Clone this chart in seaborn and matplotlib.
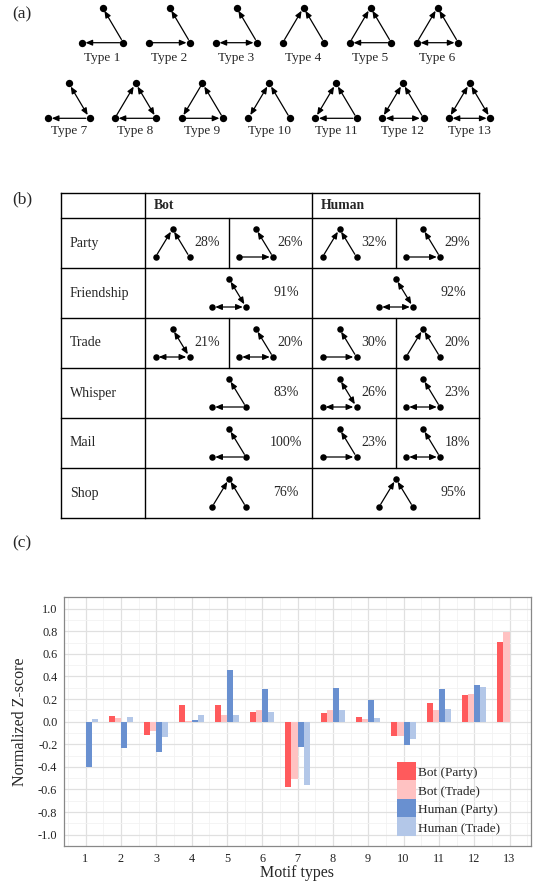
import numpy as np
import pandas as pd
import matplotlib
matplotlib.use("Agg")
import matplotlib.pyplot as plt
from matplotlib.patches import FancyArrowPatch
import seaborn as sns

# ---- data ----------------------------------------------------------------
motif_types = [str(i) for i in range(1, 14)]
bot_party = [0.0, 0.05, -0.115, 0.147, 0.147, 0.085, -0.574, 0.076, 0.041, -0.13, 0.165, 0.235, 0.703]
bot_trade = [0.0, 0.032, -0.08, 0.005, 0.059, 0.103, -0.503, 0.103, 0.024, -0.13, 0.103, 0.244, 0.79]
human_party = [-0.397, -0.23, -0.265, 0.015, 0.456, 0.288, -0.22, 0.297, 0.19, -0.21, 0.288, 0.324, 0.0]
human_trade = [0.024, 0.041, -0.14, 0.059, 0.059, 0.085, -0.556, 0.103, 0.032, -0.15, 0.112, 0.306, 0.0]
series_names = ["Bot (Party)", "Bot (Trade)", "Human (Party)", "Human (Trade)"]
series_colors = ["#FF5A5C", "#FFC2C2", "#6990D0", "#B3C7E8"]
ytick_values = [-1.0, -0.8, -0.6, -0.4, -0.2, 0.0, 0.2, 0.4, 0.6, 0.8, 1.0]
ytick_labels = ["-1.0", "-0.8", "-0.6", "-0.4", "-0.2", "0.0", "0.2", "0.4", "0.6", "0.8", "1.0"]

# motif edges: (from, to, kind) with kind ">" single arrow, "<>" mutual
motifs = {
    "1": [("R", "T", ">"), ("R", "L", ">")],
    "2": [("R", "T", ">"), ("L", "R", ">")],
    "3": [("R", "T", ">"), ("L", "R", "<>")],
    "4": [("L", "T", ">"), ("R", "T", ">")],
    "5": [("L", "T", ">"), ("R", "T", ">"), ("R", "L", ">")],
    "6": [("L", "T", ">"), ("R", "T", ">"), ("L", "R", "<>")],
    "7": [("T", "R", "<>"), ("R", "L", ">")],
    "8": [("L", "T", ">"), ("T", "R", "<>"), ("R", "L", ">")],
    "9": [("T", "L", ">"), ("R", "T", ">"), ("L", "R", ">")],
    "10": [("L", "T", "<>"), ("R", "T", ">")],
    "11": [("L", "T", "<>"), ("R", "T", ">"), ("R", "L", ">")],
    "12": [("L", "T", "<>"), ("R", "T", ">"), ("L", "R", "<>")],
    "13": [("L", "T", "<>"), ("R", "T", "<>"), ("L", "R", "<>")],
    "F": [("T", "R", "<>"), ("L", "R", "<>")],
}

table_rows = ["Party", "Friendship", "Trade", "Whisper", "Mail", "Shop"]
bot_cells = [[("4", "28%"), ("2", "26%")], [("F", "91%")], [("F", "21%"), ("3", "20%")],
             [("1", "83%")], [("1", "100%")], [("4", "76%")]]
human_cells = [[("4", "32%"), ("2", "29%")], [("F", "92%")], [("2", "30%"), ("4", "20%")],
               [("F", "26%"), ("3", "23%")], [("2", "23%"), ("3", "18%")], [("4", "95%")]]

# ---- style ---------------------------------------------------------------
sns.set_style("white")
plt.rcParams["font.family"] = ["Liberation Serif", "DejaVu Serif"]
plt.rcParams["axes.unicode_minus"] = False

W, H = 533, 881
fig = plt.figure(figsize=(W / 100, H / 100), dpi=100)

# overlay axes in pixel coordinates for panels (a) and (b)
ov = fig.add_axes([0, 0, 1, 1])
ov.set_xlim(0, W)
ov.set_ylim(H, 0)
ov.axis("off")


def draw_motif(ax, cx, ytop, ybot, half_w, edges, s=28, shrink=2.7):
    pos = {"T": (cx, ytop), "L": (cx - half_w, ybot), "R": (cx + half_w, ybot)}
    for u, v, kind in edges:
        style = "<|-|>" if kind == "<>" else "-|>"
        ax.add_patch(FancyArrowPatch(
            pos[u], pos[v],
            arrowstyle=f"{style},head_length=4.0,head_width=1.7",
            shrinkA=shrink, shrinkB=shrink, lw=0.9, color="black", zorder=2))
    xs = [p[0] for p in pos.values()]
    ys = [p[1] for p in pos.values()]
    ax.scatter(xs, ys, s=s, color="black", zorder=3, linewidths=0)


# ---- panel (a) -----------------------------------------------------------
ov.text(12, 14, "(a)", fontsize=12.5, va="center", ha="left")
for i, t in enumerate(motif_types):
    if i < 6:
        cx = 102.5 + i * 67.0
        ytop, ybot, ylab = 7.5, 42.7, 57.5
    else:
        cx = 68.8 + (i - 6) * 66.8
        ytop, ybot, ylab = 83.3, 118.3, 131
    draw_motif(ov, cx, ytop, ybot, 20.8, motifs[t])
    ov.text(cx, ylab, f"Type {t}", fontsize=9.5, ha="center", va="center")

# ---- panel (b) -----------------------------------------------------------
ov.text(12, 199, "(b)", fontsize=12.5, va="center", ha="left")
col_x = [61, 145, 312, 479]
head_top, head_bot = 193, 218
row_h = 50
tab_bot = head_bot + row_h * len(table_rows)
for y in [head_top, head_bot] + [head_bot + row_h * (k + 1) for k in range(len(table_rows))]:
    ov.plot([col_x[0], col_x[-1]], [y, y], color="black", lw=1.0, solid_capstyle="projecting")
for x in col_x:
    ov.plot([x, x], [head_top, tab_bot], color="black", lw=1.0, solid_capstyle="projecting")
ov.text(154, 205.5, "Bot", fontsize=9.8, fontweight="bold", va="center")
ov.text(321, 205.5, "Human", fontsize=9.8, fontweight="bold", va="center")

for r, name in enumerate(table_rows):
    top = head_bot + r * row_h
    ov.text(70, top + 25, name, fontsize=10, va="center")
    for left, cells in [(col_x[1], bot_cells[r]), (col_x[2], human_cells[r])]:
        width = 167
        if len(cells) == 2:
            mid = left + width / 2
            ov.plot([mid, mid], [top, top + row_h], color="black", lw=1.0)
            for k, (m, pct) in enumerate(cells):
                cl = left + k * width / 2
                draw_motif(ov, cl + 27.5, top + 11, top + 39, 17, motifs[m], s=22, shrink=2.3)
                ov.text(cl + 62, top + 24, pct, fontsize=10, ha="center", va="center")
        else:
            m, pct = cells[0]
            draw_motif(ov, left + 84, top + 11, top + 39, 17, motifs[m], s=22, shrink=2.3)
            ov.text(left + 141, top + 24, pct, fontsize=10, ha="center", va="center")

# ---- panel (c) -----------------------------------------------------------
ov.text(12, 543, "(c)", fontsize=12.5, va="center", ha="left")

df = pd.DataFrame({
    "motif": motif_types,
    series_names[0]: bot_party,
    series_names[1]: bot_trade,
    series_names[2]: human_party,
    series_names[3]: human_trade,
}).melt(id_vars="motif", var_name="series", value_name="z")

ax = fig.add_axes([64.3 / W, 1 - 846 / H, (530.7 - 64.3) / W, (846 - 597.3) / H])
sns.barplot(data=df, x="motif", y="z", hue="series", order=motif_types,
            hue_order=series_names, palette=series_colors, width=0.68,
            saturation=1, linewidth=0, ax=ax)

ax.set_xlim(-0.6, 12.6)
ax.set_ylim(-1.1, 1.1)
ax.set_yticks(ytick_values)
ax.set_yticklabels(ytick_labels)
ax.set_yticks(np.arange(-1.1, 1.11, 0.1), minor=True)
ax.set_xticks(np.arange(-0.5, 13, 1.0), minor=True)
ax.set_axisbelow(True)
ax.grid(which="major", color="#e0e0e0", lw=0.9)
ax.grid(which="minor", color="#f2f2f2", lw=0.6)
ax.tick_params(which="major", length=3, width=0.8, color="#555555", labelsize=8.8,
               labelcolor="#222222", pad=2)
ax.tick_params(which="minor", length=0)
for sp in ax.spines.values():
    sp.set_color("#888888")
    sp.set_linewidth(0.9)
ax.set_xlabel("Motif types", fontsize=11.5, labelpad=0)
ax.set_ylabel("Normalized Z-score", fontsize=11.5, labelpad=7)

handles, labels = ax.get_legend_handles_labels()
ax.legend(handles, labels, loc="upper left", bbox_to_anchor=(397 / W, 1 - 762 / H),
          bbox_transform=fig.transFigure, frameon=False, fontsize=9.5,
          borderpad=0, borderaxespad=0, handlelength=1.44, handleheight=1.78,
          labelspacing=0, handletextpad=0.12)

fig.savefig("out.png", dpi=100)
